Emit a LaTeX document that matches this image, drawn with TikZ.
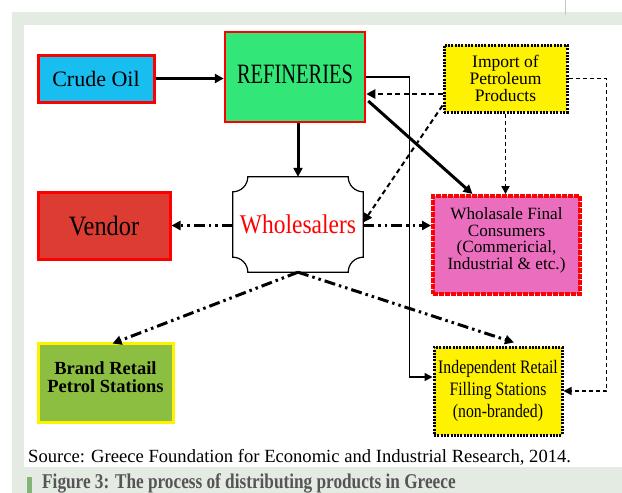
\documentclass[tikz,border=0pt]{standalone}
\usepackage{fontspec}
\setmainfont{Liberation Serif}
\newfontfamily\refinfont[FakeStretch=0.73]{Liberation Serif}
\newfontfamily\narrowfont[FakeStretch=0.87]{Liberation Serif}
\newfontfamily\indepfont[FakeStretch=0.83]{Liberation Serif}
\newfontfamily\capfont[FakeStretch=0.82]{Liberation Serif}
\usetikzlibrary{calc,arrows.meta}

\definecolor{bggreen}{RGB}{228,235,226}
\definecolor{crudeblue}{RGB}{25,190,240}
\definecolor{refgreen}{RGB}{50,230,120}
\definecolor{vendred}{RGB}{220,60,50}
\definecolor{conspink}{RGB}{235,110,190}
\definecolor{brandgreen}{RGB}{140,190,65}
\definecolor{capgray}{RGB}{85,85,85}
\definecolor{bargreen}{RGB}{130,180,120}

\tikzset{
	box/.style={draw, inner sep=0pt, align=center},
	dotbox/.style={box, fill=yellow, line width=3pt, dash pattern=on 2pt off 1.3pt},
	bigarrow/.style={line width=3pt, -{Triangle[length=9pt,width=9pt]}},
	thinarrow/.style={line width=1.5pt, -{Triangle[length=8pt,width=8pt]}},
	dashmid/.style={line width=2.5pt, dash pattern=on 5pt off 3.5pt, -{Triangle[length=9pt,width=9pt]}},
	dashthin/.style={line width=1.3pt, dash pattern=on 4pt off 3pt, -{Triangle[length=8pt,width=8pt]}},
	dashdot/.style={line width=3pt, dash pattern=on 11pt off 4pt on 2.5pt off 4pt on 2.5pt off 4pt, -{Triangle[length=9pt,width=9pt]}}
}

\begin{document}
\begin{tikzpicture}[x=1pt, y=-1pt]
			%%%%% PAGE %%%%%
			\useasboundingbox (0,0) rectangle (622,493);
			\fill[white] (0,0) rectangle (622,493);
			\fill[bggreen] (12,12) rectangle (622,493);
			\fill[white] (24,25) rectangle (622,467);
			\draw[gray!45, line width=1pt] (565.5,0) -- (565.5,15);
			
			%%%%% BOXES %%%%%
			\node[box, fill=crudeblue, draw=red, line width=3pt, minimum width=116, minimum height=47,
				font=\fontsize{22}{24}\selectfont] (crude) at (96,78.5) {Crude Oil};
			\node[box, fill=refgreen, draw=red, line width=2.5pt, minimum width=140, minimum height=90,
				font=\refinfont\fontsize{28}{30}\selectfont, text depth=6pt] (refin) at (295,77) {REFINERIES};
			\node[dotbox, minimum width=123, minimum height=67,
				font=\fontsize{17.5}{16.8}\selectfont] (import) at (505.5,78.5) {Import of\\Petroleum\\Products};
			
			\node[box, fill=vendred, draw=red, line width=3pt, minimum width=132, minimum height=67,
				font=\narrowfont\fontsize{28}{30}\selectfont] (vendor) at (104,225.5) {Vendor};
			\node[inner sep=0pt, minimum width=130, minimum height=95, text=red,
				font=\narrowfont\fontsize{27}{30}\selectfont] (whole) at (298,224.5) {Wholesalers};
			\draw[line width=1.2pt] ($(whole.north west)+(15,0)$) -- ($(whole.north east)+(-15,0)$) arc (180:90:15)
				-- ($(whole.south east)+(0,-15)$) arc (270:180:15)
				-- ($(whole.south west)+(15,0)$) arc (0:-90:15)
				-- ($(whole.north west)+(0,15)$) arc (90:0:15) -- cycle;
			\node[box, fill=conspink, draw=red, line width=4pt, dash pattern=on 5pt off 1pt,
				minimum width=147, minimum height=98, text depth=13pt,
				font=\fontsize{17.2}{16.5}\selectfont] (cons) at (506.5,245) {Wholasale Final\\Consumers\\(Commericial,\\Industrial \& etc.)};
			
			\node[box, fill=brandgreen, draw=yellow, line width=3pt, minimum width=135, minimum height=79,
				text depth=11pt, font=\bfseries\fontsize{18.5}{17.8}\selectfont] (brand) at (105.5,382.5) {Brand Retail\\Petrol Stations};
			\node[dotbox, minimum width=128, minimum height=88,
				font=\indepfont\fontsize{19}{22}\selectfont] (indep) at (498,391) {Independent Retail\\Filling Stations\\(non-branded)};
			
			%%%%% CONNECTORS %%%%%
			\draw[bigarrow] (crude.east) -- (crude.east -| refin.west);
			\draw[bigarrow] (refin.south -| whole.north) -- (whole.north);
			\draw[thinarrow] (refin.east) -- ++(43,0) |- ($(indep.west)+(0,-14)$);
			\draw[dashmid] ($(import.west)+(0,15.5)$) -- ($(refin.east)+(0,17)$);
			\draw[bigarrow] ($(refin.east)+(2,24)$) -- ($(cons.north)+(-34,0)$);
			\draw[dashthin, line width=1.8pt] (import.south) -- (import.south |- cons.north);
			\draw[dashmid, line width=2pt] ($(import.south west)+(0,-8)$) -- ($(whole.east)+(0,-2)$);
			\draw[dashthin] (import.east) -- ++(38,0) |- (indep.east);
			
			\draw[dashdot] (whole.west |- vendor.east) -- (vendor.east);
			\draw[dashdot] (whole.east |- vendor.east) -- (cons.west |- vendor.east);
			\draw[dashdot] (whole.south) -- ($(brand.north)+(7,2)$);
			\draw[dashdot] (whole.south) -- ($(indep.north)+(16,-3)$);
			
			%%%%% TEXT %%%%%
			\node[anchor=base west, inner sep=0pt, font=\fontsize{18.6}{20}\selectfont] (source) at (28,462)
				{Source: Greece Foundation for Economic and Industrial Research, 2014.};
			\fill[bargreen] (27,477) rectangle (32,493);
			\node[anchor=base west, inner sep=0pt, text=capgray, font=\capfont\bfseries\fontsize{21}{23}\selectfont] (caption) at (42,488.5)
				{Figure 3: The process of distributing products in Greece};
			
			%%%%% END %%%%%
		\end{tikzpicture}
\end{document}
